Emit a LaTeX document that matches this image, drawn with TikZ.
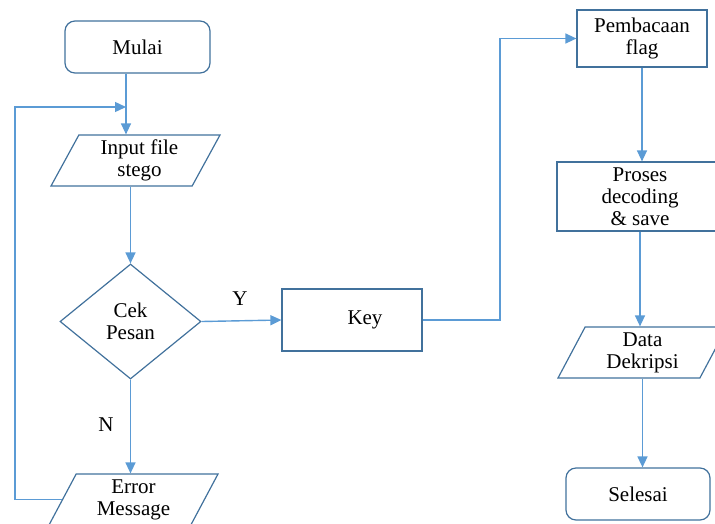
\documentclass[tikz,border=0pt]{standalone}
\usepackage{fontspec}
\setmainfont{Liberation Serif}
\usetikzlibrary{shapes.geometric,arrows.meta}
\definecolor{outl}{RGB}{65,113,156}
\definecolor{arrc}{RGB}{91,155,213}
\tikzset{
  base/.style={draw=outl, line width=1.2pt, align=center, font=\fontsize{21}{22}\selectfont, inner sep=0pt},
  term/.style={base, rounded corners=10pt},
  proc/.style={base, rectangle},
  io/.style={base, trapezium, trapezium left angle=56, trapezium right angle=124, trapezium stretches body=true},
  dec/.style={base, diamond},
  arr/.style={draw=arrc, line width=1.4pt, -{Triangle[length=11pt,width=10pt]}},
  lbl/.style={font=\fontsize{21}{22}\selectfont}
}
\begin{document}
\begin{tikzpicture}[x=1pt,y=-1pt]
\useasboundingbox (0,0) rectangle (715,523);
\node[term, minimum width=145pt, minimum height=52pt] (mulai) at (137.5,47) {Mulai};
\node[io, minimum width=169pt, minimum height=51pt] (input) at (135.5,160.5) {\hspace*{8pt}Input file\\\hspace*{8pt}stego};
\node[dec, minimum width=141pt, minimum height=115pt] (cek) at (130.5,321.5) {Cek\\Pesan};
\node[io, minimum width=169pt, minimum height=51pt] (err) at (133.5,499.5) {Error\\Message};
\node[proc, minimum width=140pt, minimum height=62pt] (key) at (352,320) {\hspace*{26pt}Key};
\node[proc, minimum width=130pt, minimum height=57pt] (pemb) at (642,38.5) {Pembacaan\\flag};
\node[proc, minimum width=166pt, minimum height=69pt] (proses) at (640,196.5) {Proses\\decoding\\\& save};
\node[io, minimum width=169pt, minimum height=51pt] (data) at (642.5,352.5) {Data\\Dekripsi};
\node[term, minimum width=144pt, minimum height=52pt] (selesai) at (638,494) {Selesai};
\coordinate (j1) at (126,107);
\coordinate (lc) at (15,107);
\coordinate (kr) at (500,0);
\draw[arr] (mulai.south -| j1) -- (input.north -| j1);
\draw[arr] (input.south -| cek.north) -- (cek.north);
\draw[arr] (cek.south) -- (cek.south |- err.north);
\draw[arr] (cek.east) -- (key.west);
\draw[arr] (key.east) -- (key.east -| kr) |- (pemb.west);
\draw[arr] (pemb.south) -- (pemb.south |- proses.north);
\draw[arr] (proses.south) -- (proses.south |- data.north);
\draw[arr] (data.south) -- (data.south |- selesai.north);
\draw[arr] (err.west) -| (lc) -- (j1);
\node[lbl] (ylab) at (240,299) {Y};
\node[lbl] (nlab) at (106,425) {N};
\end{tikzpicture}
\end{document}
